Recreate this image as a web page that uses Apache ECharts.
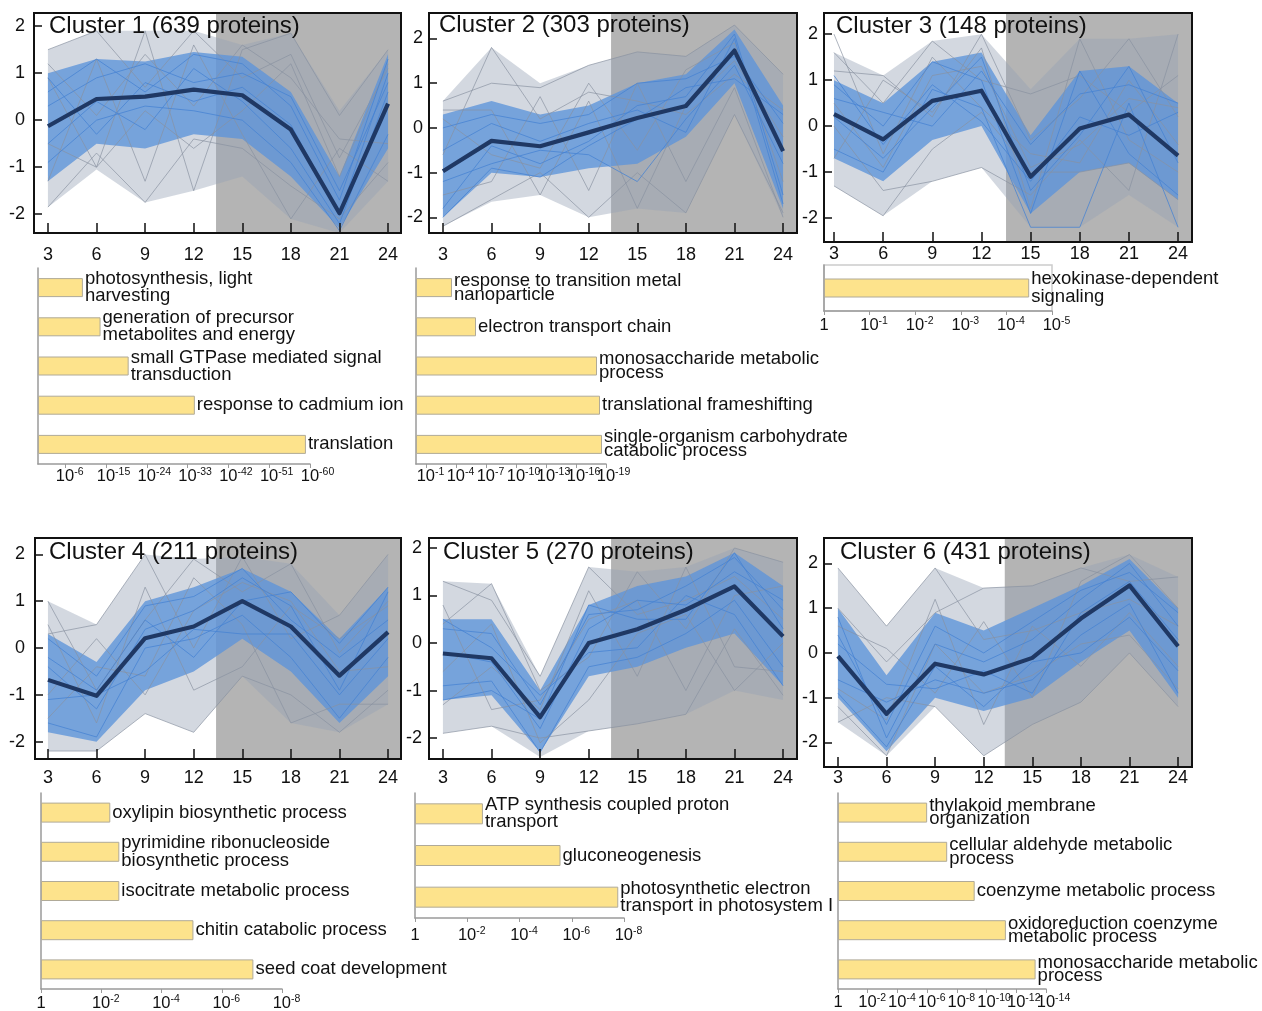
<!DOCTYPE html>
<html>
<head>
<meta charset="utf-8">
<title>Protein expression clusters and GO enrichment</title>
<script src="https://cdn.jsdelivr.net/npm/echarts@6/dist/echarts.min.js"></script>
<style>
  html, body { margin: 0; padding: 0; background: #ffffff; }
  #chart { width: 1262px; height: 1011px; }
</style>
</head>
<body>
<div id="chart"></div>
<script>
// ---------- data ----------
const hours = [3, 6, 9, 12, 15, 18, 21, 24];
const yTicks = [-2, -1, 0, 1, 2];
const clusterTitles = [
  'Cluster 1 (639 proteins)', 'Cluster 2 (303 proteins)', 'Cluster 3 (148 proteins)',
  'Cluster 4 (211 proteins)', 'Cluster 5 (270 proteins)', 'Cluster 6 (431 proteins)'
];

// Cluster 1: mean profile, spread of all members, dense core, and member profiles
const c1Mean    = [-0.13, 0.45, 0.50, 0.65, 0.53, -0.20, -1.98, 0.35];
const c1OuterLo = [-1.85, -1.05, -1.75, -1.50, -1.20, -2.10, -2.40, -1.30];
const c1OuterHi = [1.50, 1.90, 1.90, 1.90, 1.60, 1.85, 0.20, 1.50];
const c1InnerLo = [-1.30, -0.50, -0.60, -0.30, -0.40, -1.20, -2.30, -0.60];
const c1InnerHi = [1.00, 1.30, 1.25, 1.45, 1.35, 0.60, -1.20, 1.40];
const c1Gray = [
  [1.5, 1.9, 0.7, 1.9, 0.9, 1.4, -0.8, 1.1],
  [-1.85, -0.7, -1.75, -0.4, -0.6, -1.4, -2.1, -0.9],
  [0.9, -1.0, 1.9, -1.5, 1.5, 1.85, 0.1, 1.5],
  [-1.3, 1.3, -1.3, 1.6, -0.3, -2.1, -0.6, -1.3],
  [1.2, 0.1, 1.4, 0.3, 1.6, 0.9, -0.4, -0.5],
  [-0.5, -1.0, 0.2, -0.6, 0.2, 1.2, -1.2, 1.2]
];
const c1Blue = [
  [0.6, 1.3, 0.6, 1.4, 1.2, 0.3, -1.7, 1.3],
  [-0.9, 0.0, 0.3, 0.2, 0.0, -0.9, -2.35, -0.3],
  [0.3, 0.9, 1.2, 0.8, 1.0, 0.5, -1.5, 0.8],
  [-0.5, 0.4, -0.2, 1.1, 0.4, -0.6, -2.2, 0.6],
  [0.9, -0.3, 0.8, 0.4, 0.7, -0.1, -2.0, 1.0]
];

// Cluster 2
const c2Mean    = [-0.97, -0.29, -0.41, -0.10, 0.22, 0.49, 1.73, -0.52];
const c2OuterLo = [-2.20, -1.65, -1.50, -2.00, -1.80, -1.90, 0.30, -2.00];
const c2OuterHi = [0.60, 1.80, 1.00, 1.40, 1.70, 1.60, 2.30, 1.20];
const c2InnerLo = [-2.00, -1.00, -1.10, -0.90, -0.80, -0.20, 1.00, -1.80];
const c2InnerHi = [0.30, 0.60, 0.30, 0.50, 1.00, 1.20, 2.20, 0.50];
const c2Gray = [
  [-0.6, 1.8, 0.2, 0.8, 0.6, 0.3, 1.2, 0.4],
  [0.6, 1.0, 0.9, 1.4, 1.7, 1.6, 2.3, 1.2],
  [-2.2, -1.6, -1.0, -2.0, -1.0, -1.9, 0.3, -1.9],
  [0.4, 0.4, -1.5, 0.6, -1.8, 0.5, 1.5, -0.2],
  [-1.5, -1.2, 0.7, -1.4, 1.0, -1.2, 0.9, -2.0],
  [0.2, -0.6, -0.9, 1.0, -0.5, 1.3, 1.9, -1.2]
];
const c2Blue = [
  [-1.8, -0.4, -0.8, -0.3, 0.5, 0.7, 2.1, -1.5],
  [0.0, 0.3, 0.1, 0.3, 1.0, 1.1, 1.6, 0.1],
  [-1.2, -0.8, -0.5, -0.6, -1.2, 0.2, 1.4, -0.8],
  [-0.5, 0.1, -0.3, 0.1, 0.4, -0.1, 2.0, -1.7],
  [-2.0, -0.9, -1.1, -0.4, 0.2, 0.9, 1.1, 0.3]
];

// Cluster 3
const c3Mean    = [0.26, -0.29, 0.55, 0.77, -1.10, -0.05, 0.25, -0.64];
const c3OuterLo = [-1.30, -1.95, -1.20, -0.90, -2.20, -2.20, -1.50, -2.20];
const c3OuterHi = [1.60, 1.10, 1.85, 2.00, 0.80, 1.90, 1.90, 2.00];
const c3InnerLo = [-0.70, -1.20, -0.30, 0.00, -1.90, -1.00, -0.80, -1.60];
const c3InnerHi = [1.00, 0.50, 1.40, 1.60, -0.20, 1.20, 1.30, 0.50];
const c3Gray = [
  [1.6, 0.5, 1.85, 1.0, 0.7, 1.1, 0.3, 1.1],
  [-1.3, -1.95, -0.5, 0.3, -1.0, -1.0, -0.8, -1.6],
  [1.2, 1.1, 0.2, 2.0, -0.3, 0.6, 1.9, 0.2],
  [0.0, -1.4, -1.2, -0.9, -1.5, -0.3, -1.4, 2.0],
  [2.0, -0.6, 1.5, 0.4, -0.6, -0.8, 1.0, -0.4],
  [-0.7, 1.0, 0.3, 1.7, -1.8, 1.9, -0.3, -1.0],
  [0.5, -0.9, 1.1, 1.3, -0.9, -0.4, 0.6, 0.4]
];
const c3Blue = [
  [0.9, 0.0, 1.4, 1.0, -1.9, 1.2, -0.6, -1.5],
  [0.2, -0.7, 0.4, 1.5, -1.4, -0.2, 1.3, -0.8],
  [-0.5, -1.0, 0.8, 0.4, -2.2, -2.2, 0.5, -2.2],
  [0.6, 0.3, 0.0, 1.2, -0.4, 0.7, 0.9, 0.5],
  [1.1, -0.4, 0.9, 0.1, -1.2, 0.2, -0.2, 0.3]
];

// Cluster 4
const c4Mean    = [-0.68, -1.02, 0.21, 0.46, 1.00, 0.46, -0.59, 0.34];
const c4OuterLo = [-2.20, -2.20, -1.40, -1.80, -0.60, -1.60, -1.80, -1.20];
const c4OuterHi = [1.00, 0.50, 2.00, 1.90, 1.95, 1.80, 0.70, 2.00];
const c4InnerLo = [-1.80, -2.00, -0.90, -0.50, 0.20, -0.50, -1.60, -0.60];
const c4InnerHi = [0.30, -0.30, 1.00, 1.30, 1.70, 1.20, 0.20, 1.30];
const c4Gray = [
  [1.0, -0.9, 0.6, 1.9, 1.2, 1.8, -0.1, 1.0],
  [-2.2, -2.2, -1.4, -1.8, -0.6, -1.0, -1.8, -0.9],
  [0.3, 0.5, 2.0, 0.0, 1.95, 0.2, 0.7, 2.0],
  [-1.5, -0.4, -0.6, 1.5, 0.5, -1.6, -1.2, -1.2],
  [0.5, -1.6, 1.3, -0.9, -0.4, 0.9, 0.2, 0.9],
  [-1.0, 0.2, -1.0, 0.8, 1.4, 1.0, -0.5, -0.4]
];
const c4Blue = [
  [-0.4, -1.3, 0.4, 0.8, 1.5, 0.9, -0.9, 1.2],
  [-1.6, -1.9, 0.0, 0.2, 0.7, -0.2, -1.5, -0.2],
  [0.2, -0.6, 0.9, 1.1, 1.7, 0.6, -0.2, 0.6],
  [-1.1, -1.0, -0.5, 0.4, 0.3, 0.3, -1.0, 0.2],
  [-0.2, -0.9, 0.6, -0.2, 1.0, 1.2, 0.1, 1.3]
];

// Cluster 5
const c5Mean    = [-0.22, -0.32, -1.56, 0.00, 0.29, 0.70, 1.19, 0.14];
const c5OuterLo = [-1.90, -1.75, -2.40, -1.85, -1.70, -1.50, -1.00, -1.20];
const c5OuterHi = [1.30, 1.25, -0.70, 1.60, 1.50, 1.60, 2.00, 1.70];
const c5InnerLo = [-1.20, -1.10, -2.30, -0.70, -0.50, -0.10, 0.20, -0.90];
const c5InnerHi = [0.50, 0.50, -1.00, 0.80, 1.20, 1.40, 1.90, 1.20];
const c5Gray = [
  [1.3, 0.9, -0.7, 1.6, 0.6, 0.9, 1.4, 0.5],
  [-1.9, -1.75, -2.0, -1.85, -1.7, -1.5, 0.3, -1.1],
  [0.4, 1.25, -1.0, -0.3, 1.5, 0.3, 2.0, 1.7],
  [-1.3, -0.5, -1.4, 1.1, -0.7, 1.6, -0.5, -0.6],
  [0.8, -1.4, -1.2, 0.5, 0.9, -1.0, 1.0, 1.2],
  [-0.6, 0.4, -2.1, -1.2, 0.2, 0.6, -1.0, 0.0]
];
const c5Blue = [
  [0.3, 0.2, -1.3, 0.6, 0.7, 1.2, 1.8, 0.7],
  [-0.9, -0.8, -2.3, -0.5, -0.3, 0.2, 0.9, -0.5],
  [-0.2, -0.4, -1.8, 0.3, 0.9, 0.8, 1.5, 0.9],
  [0.5, -0.1, -1.1, -0.2, -0.1, 1.0, 0.6, -0.9],
  [-1.2, -1.0, -1.6, 0.8, 0.5, 0.5, 1.9, 0.3]
];

// Cluster 6
const c6Mean    = [-0.07, -1.36, -0.24, -0.48, -0.11, 0.77, 1.51, 0.15];
const c6OuterLo = [-1.55, -2.30, -1.20, -2.30, -1.60, -1.10, 0.00, -1.20];
const c6OuterHi = [1.90, 0.60, 1.90, 1.45, 1.50, 1.90, 2.20, 1.70];
const c6InnerLo = [-1.00, -2.20, -1.00, -1.30, -1.00, -0.20, 0.50, -1.00];
const c6InnerHi = [1.00, -0.50, 0.90, 0.50, 1.00, 1.50, 2.10, 1.00];
const c6Gray = [
  [1.9, 0.6, 1.9, 0.3, 0.5, 0.9, 1.2, 0.6],
  [-1.55, -1.0, -1.2, -2.3, -1.6, -1.1, 0.0, -1.2],
  [1.0, -0.2, 0.9, 1.45, 1.5, 1.9, 1.6, 1.7],
  [-1.2, -2.3, 0.2, -0.9, -0.5, 0.2, 0.4, -0.8],
  [0.6, 0.1, -0.9, 0.7, -1.0, 1.6, 2.2, 1.0],
  [-0.8, -1.5, 1.2, -1.6, 0.6, -0.3, 0.9, -0.3]
];
const c6Blue = [
  [0.8, -1.9, 0.2, -0.2, 0.3, 1.2, 2.0, 0.6],
  [-0.6, -1.1, -0.6, -0.9, -0.6, 0.4, 1.1, -0.9],
  [0.4, -1.6, 0.6, 0.0, 0.7, 1.4, 1.8, 0.9],
  [-0.9, -2.1, -0.3, -1.2, -0.2, 0.0, 0.8, -0.4],
  [0.2, -0.7, -0.8, -0.4, -0.9, 0.9, 1.6, 0.3]
];

// GO enrichment per cluster: terms and -log10(p)
const go1Terms = ['photosynthesis, light\nharvesting', 'generation of precursor\nmetabolites and energy',
  'small GTPase mediated signal\ntransduction', 'response to cadmium ion', 'translation'];
const go1Values = [9.9, 13.8, 20.0, 34.6, 59.1];
const go1Ticks = [6, 15, 24, 33, 42, 51, 60];

const go2Terms = ['response to transition metal\nnanoparticle', 'electron transport chain',
  'monosaccharide metabolic\nprocess', 'translational frameshifting',
  'single-organism carbohydrate\ncatabolic process'];
const go2Values = [3.6, 6.0, 18.1, 18.4, 18.6];
const go2Ticks = [1, 4, 7, 10, 13, 16, 19];

const go3Terms = ['hexokinase-dependent\nsignaling'];
const go3Values = [4.5];
const go3Ticks = [0, 1, 2, 3, 4, 5];

const go4Terms = ['oxylipin biosynthetic process', 'pyrimidine ribonucleoside\nbiosynthetic process',
  'isocitrate metabolic process', 'chitin catabolic process', 'seed coat development'];
const go4Values = [2.3, 2.6, 2.6, 5.06, 7.05];
const go4Ticks = [0, 2, 4, 6, 8];

const go5Terms = ['ATP synthesis coupled proton\ntransport', 'gluconeogenesis',
  'photosynthetic electron\ntransport in photosystem I'];
const go5Values = [2.6, 5.57, 7.78];
const go5Ticks = [0, 2, 4, 6, 8];

const go6Terms = ['thylakoid membrane\norganization', 'cellular aldehyde metabolic\nprocess',
  'coenzyme metabolic process', 'oxidoreduction coenzyme\nmetabolic process',
  'monosaccharide metabolic\nprocess'];
const go6Values = [6.0, 7.35, 9.2, 11.3, 13.3];
const go6Ticks = [0, 2, 4, 6, 8, 10, 12, 14];

// ---------- layout ----------
const FONT = '"Liberation Sans", Arial, Helvetica, sans-serif';
const INK = '#111111';

const clusters = [
  { mean: c1Mean, oLo: c1OuterLo, oHi: c1OuterHi, iLo: c1InnerLo, iHi: c1InnerHi, gray: c1Gray, blue: c1Blue },
  { mean: c2Mean, oLo: c2OuterLo, oHi: c2OuterHi, iLo: c2InnerLo, iHi: c2InnerHi, gray: c2Gray, blue: c2Blue },
  { mean: c3Mean, oLo: c3OuterLo, oHi: c3OuterHi, iLo: c3InnerLo, iHi: c3InnerHi, gray: c3Gray, blue: c3Blue },
  { mean: c4Mean, oLo: c4OuterLo, oHi: c4OuterHi, iLo: c4InnerLo, iHi: c4InnerHi, gray: c4Gray, blue: c4Blue },
  { mean: c5Mean, oLo: c5OuterLo, oHi: c5OuterHi, iLo: c5InnerLo, iHi: c5InnerHi, gray: c5Gray, blue: c5Blue },
  { mean: c6Mean, oLo: c6OuterLo, oHi: c6OuterHi, iLo: c6InnerLo, iHi: c6InnerHi, gray: c6Gray, blue: c6Blue }
];

const lineLayouts = [
  { left: 34,  top: 13,  width: 367, height: 220, xMin: 2.14, xMax: 24.8,  yMin: -2.40, yMax: 2.28, shadeFrom: 13.38, xMargin: 13, yMargin: 9,  titleLeft: 49,  titleTop: 14 },
  { left: 429, top: 13,  width: 368, height: 220, xMin: 2.14, xMax: 24.86, yMin: -2.35, yMax: 2.57, shadeFrom: 13.38, xMargin: 13, yMargin: 6,  titleLeft: 439, titleTop: 13 },
  { left: 824, top: 13,  width: 368, height: 229, xMin: 2.39, xMax: 24.85, yMin: -2.52, yMax: 2.46, shadeFrom: 13.5,  xMargin: 3,  yMargin: 6,  titleLeft: 836, titleTop: 14 },
  { left: 35,  top: 538, width: 366, height: 221, xMin: 2.2,  xMax: 24.8,  yMin: -2.37, yMax: 2.35, shadeFrom: 13.38, xMargin: 10, yMargin: 10, titleLeft: 49,  titleTop: 540 },
  { left: 429, top: 538, width: 368, height: 221, xMin: 2.14, xMax: 24.86, yMin: -2.44, yMax: 2.21, shadeFrom: 13.38, xMargin: 10, yMargin: 7,  titleLeft: 443, titleTop: 540 },
  { left: 824, top: 538, width: 368, height: 229, xMin: 2.14, xMax: 24.86, yMin: -2.55, yMax: 2.57, shadeFrom: 13.3,  xMargin: 2,  yMargin: 6,  titleLeft: 840, titleTop: 540 }
];

const goSets = [
  { terms: go1Terms, values: go1Values, ticks: go1Ticks },
  { terms: go2Terms, values: go2Values, ticks: go2Ticks },
  { terms: go3Terms, values: go3Values, ticks: go3Ticks },
  { terms: go4Terms, values: go4Values, ticks: go4Ticks },
  { terms: go5Terms, values: go5Values, ticks: go5Ticks },
  { terms: go6Terms, values: go6Values, ticks: go6Ticks }
];

const barLayouts = [
  { left: 38,  top: 268, width: 272, height: 196, max: 60, barWidth: 19, lineHeight: 17,   frame: false, tickMargin: 3 },
  { left: 416, top: 268, width: 190, height: 196, max: 19, barWidth: 19, lineHeight: 14,   frame: false, tickMargin: 3 },
  { left: 824, top: 265, width: 228, height: 46,  max: 5,  barWidth: 19, lineHeight: 18,   frame: true,  tickMargin: 5 },
  { left: 41,  top: 793, width: 241, height: 196, max: 8,  barWidth: 20, lineHeight: 18,   frame: false, tickMargin: 5 },
  { left: 415, top: 793, width: 209, height: 125, max: 8,  barWidth: 21, lineHeight: 17,   frame: false, tickMargin: 8 },
  { left: 838, top: 793, width: 208, height: 196, max: 14, barWidth: 20, lineHeight: 13.5, frame: false, tickMargin: 4 }
];

// ---------- option building ----------
const grid = [], xAxis = [], yAxis = [], series = [], title = [];

function pairs(values) {
  return hours.map((h, i) => [h, values[i]]);
}

// filled polygon between two profiles, placed through the axis scales
function bandSeries(ax, lo, hi, fill, z) {
  return {
    type: 'custom', xAxisIndex: ax.x, yAxisIndex: ax.y, silent: true, z: z, clip: true,
    data: [[hours[0], lo[0]]],
    renderItem: function (params, api) {
      const pts = [];
      for (let i = 0; i < hours.length; i++) pts.push(api.coord([hours[i], hi[i]]));
      for (let i = hours.length - 1; i >= 0; i--) pts.push(api.coord([hours[i], lo[i]]));
      return { type: 'polygon', shape: { points: pts }, style: { fill: fill } };
    }
  };
}

// grey background for the later half of the time course
function shadeSeries(ax, L) {
  return {
    type: 'custom', xAxisIndex: ax.x, yAxisIndex: ax.y, silent: true, z: 1,
    data: [[L.shadeFrom, 0]],
    renderItem: function (params, api) {
      const p0 = api.coord([L.shadeFrom, L.yMax]);
      const p1 = api.coord([L.xMax, L.yMin]);
      return { type: 'rect', shape: { x: p0[0], y: p0[1], width: p1[0] - p0[0], height: p1[1] - p0[1] },
               style: { fill: '#b4b4b4' } };
    }
  };
}

function profileSeries(ax, values, color, width, z) {
  return {
    type: 'line', xAxisIndex: ax.x, yAxisIndex: ax.y, data: pairs(values),
    showSymbol: false, symbol: 'none', silent: true, z: z, animation: false,
    lineStyle: { color: color, width: width, join: 'round' }
  };
}

lineLayouts.forEach((L, k) => {
  const C = clusters[k];
  const gi = grid.length;
  grid.push({ left: L.left, top: L.top, width: L.width, height: L.height, show: true,
              outerBoundsMode: 'none', containLabel: false,
              backgroundColor: 'transparent', borderColor: INK, borderWidth: 2, z: 10 });
  const ax = { x: xAxis.length, y: yAxis.length };
  xAxis.push({
    gridIndex: gi, type: 'value', min: L.xMin, max: L.xMax, z: 10,
    axisLine: { show: false, onZero: false },
    axisTick: { show: true, inside: true, length: 10, customValues: hours, lineStyle: { color: INK, width: 1.5 } },
    axisLabel: { customValues: hours, color: INK, fontSize: 18, fontFamily: FONT, margin: L.xMargin },
    splitLine: { show: false }
  });
  yAxis.push({
    gridIndex: gi, type: 'value', min: L.yMin, max: L.yMax, z: 10,
    axisLine: { show: false, onZero: false },
    axisTick: { show: true, inside: true, length: 8, customValues: yTicks, lineStyle: { color: INK, width: 1.5 } },
    axisLabel: { customValues: yTicks, color: INK, fontSize: 18, fontFamily: FONT, margin: L.yMargin },
    splitLine: { show: false }
  });
  series.push(shadeSeries(ax, L));
  series.push(bandSeries(ax, C.oLo, C.oHi, 'rgba(150,162,182,0.42)', 2));
  series.push(bandSeries(ax, C.iLo, C.iHi, 'rgba(92,148,218,0.78)', 2));
  C.gray.forEach(p => series.push(profileSeries(ax, p, 'rgba(135,145,160,0.75)', 0.9, 3)));
  C.blue.forEach(p => series.push(profileSeries(ax, p, 'rgba(70,130,210,0.85)', 0.9, 3)));
  series.push(profileSeries(ax, C.mean, '#1f3864', 4.2, 5));
  title.push({
    text: clusterTitles[k], left: L.titleLeft, top: L.titleTop, padding: 0, z: 12,
    textStyle: { fontSize: 24, fontWeight: 'normal', color: INK, fontFamily: FONT }
  });
});

// tick label "10" with a raised exponent; the exponent hangs to the right of the centred base
function powerLabel(v) {
  const n = Number(v);
  if (n === 0) return '{b|1}';
  return '{b|10}{' + (n >= 10 ? 's2' : 's1') + '|-' + n + '}';
}

const AXIS_GRAY = '#9a9a9a';
const powerRich = {
  b:  { fontSize: 16.5, lineHeight: 19, color: INK, fontFamily: FONT },
  s1: { fontSize: 10.5, lineHeight: 13, color: INK, fontFamily: FONT, verticalAlign: 'top', padding: [0, -9, 0, 0] },
  s2: { fontSize: 10.5, lineHeight: 13, color: INK, fontFamily: FONT, verticalAlign: 'top', padding: [0, -15, 0, 0] }
};

barLayouts.forEach((B, j) => {
  const G = goSets[j];
  const gi = grid.length;
  grid.push({ left: B.left, top: B.top, width: B.width, height: B.height,
              outerBoundsMode: 'none', containLabel: false,
              show: B.frame, borderColor: '#cccccc', borderWidth: 1.5, backgroundColor: 'transparent' });
  // the exponent labels are dense, so alternate ticks are labelled by two coincident bottom axes
  const evenTicks = G.ticks.filter((t, i) => i % 2 === 0);
  const oddTicks = G.ticks.filter((t, i) => i % 2 === 1);
  const xi = xAxis.length;
  [evenTicks, oddTicks].forEach((ticks, part) => {
    xAxis.push({
      gridIndex: gi, type: 'value', min: 0, max: B.max, position: 'bottom', offset: 0,
      axisLine: { show: part === 0, onZero: false, lineStyle: { color: AXIS_GRAY, width: 1.5 } },
      axisTick: { show: true, inside: false, length: 4, customValues: ticks, lineStyle: { color: AXIS_GRAY, width: 1 } },
      axisLabel: { customValues: ticks, margin: B.tickMargin, hideOverlap: false, formatter: powerLabel, rich: powerRich },
      splitLine: { show: false }
    });
  });
  const yi = yAxis.length;
  yAxis.push({
    gridIndex: gi, type: 'category', inverse: true, data: G.terms,
    axisLine: { show: true, lineStyle: { color: AXIS_GRAY, width: 1.5 } },
    axisTick: { show: false }, axisLabel: { show: false }, splitLine: { show: false }
  });
  series.push({
    type: 'bar', xAxisIndex: xi, yAxisIndex: yi, data: G.values, barWidth: B.barWidth,
    silent: true, animation: false,
    itemStyle: { color: '#fde38c', borderColor: '#b0aa98', borderWidth: 1 },
    label: {
      show: true, position: 'right', distance: 2, formatter: '{b}',
      fontSize: 18.5, lineHeight: B.lineHeight, color: INK, fontFamily: FONT, align: 'left'
    }
  });
});

const chart = echarts.init(document.getElementById('chart'), null, { renderer: 'canvas' });
chart.setOption({
  animation: false,
  backgroundColor: '#ffffff',
  title: title, grid: grid, xAxis: xAxis, yAxis: yAxis, series: series
});
</script>
</body>
</html>
